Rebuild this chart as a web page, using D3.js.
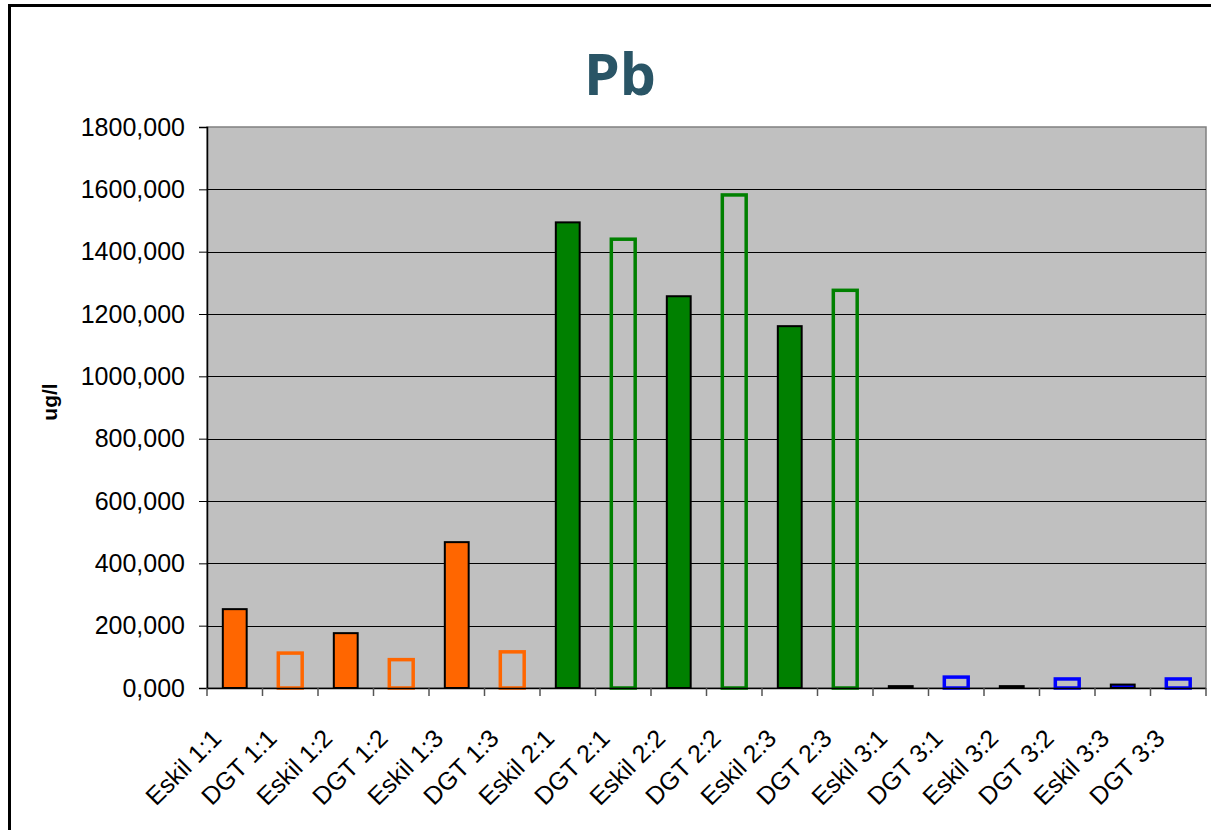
<!DOCTYPE html>
<html>
<head>
<meta charset="utf-8">
<script src="https://cdn.jsdelivr.net/npm/d3@7"></script>
<style>
  html, body { margin: 0; padding: 0; background: #fff; }
  svg { display: block; }
</style>
</head>
<body>
<svg id="chart" width="1211" height="830"></svg>
<script>
// Pb concentrations (ug/l) per sample
const categories = [
  "Eskil 1:1", "DGT 1:1", "Eskil 1:2", "DGT 1:2", "Eskil 1:3", "DGT 1:3",
  "Eskil 2:1", "DGT 2:1", "Eskil 2:2", "DGT 2:2", "Eskil 2:3", "DGT 2:3",
  "Eskil 3:1", "DGT 3:1", "Eskil 3:2", "DGT 3:2", "Eskil 3:3", "DGT 3:3"
];
const values = [
  253, 112, 176, 91, 468, 116,
  1494, 1440, 1257, 1582, 1161, 1276,
  6, 35, 6, 29, 11, 29
];
// site group of each sample (1, 2, 3)
const groups = [1,1,1,1,1,1, 2,2,2,2,2,2, 3,3,3,3,3,3];
const groupColors = { 1: "#FF6600", 2: "#008000", 3: "#0000FF" };
const yTicks = [0, 200, 400, 600, 800, 1000, 1200, 1400, 1600, 1800];

const FONT = "'Liberation Sans', Arial, sans-serif";
const svg = d3.select("#chart");

// outer chart frame
svg.append("rect")
  .attr("x", 9.5).attr("y", 5.5)
  .attr("width", 1230).attr("height", 860)
  .attr("fill", "#fff").attr("stroke", "#000").attr("stroke-width", 3);

const plot = { left: 207, right: 1206, top: 127, bottom: 688 };

const x = d3.scaleBand()
  .domain(categories)
  .range([plot.left, plot.right])
  .paddingInner(0).paddingOuter(0);

const y = d3.scaleLinear()
  .domain([0, 1800])
  .range([plot.bottom, plot.top]);

// plot background
svg.append("rect")
  .attr("x", plot.left).attr("y", plot.top)
  .attr("width", plot.right - plot.left).attr("height", plot.bottom - plot.top)
  .attr("fill", "#C0C0C0").attr("stroke", "#808080").attr("stroke-width", 1.5);

// horizontal gridlines
svg.append("g")
  .selectAll("line")
  .data(yTicks.filter(d => d > 0 && d < 1800))
  .join("line")
  .attr("x1", plot.left).attr("x2", plot.right)
  .attr("y1", d => Math.round(y(d)) + 0.5).attr("y2", d => Math.round(y(d)) + 0.5)
  .attr("stroke", "#000").attr("stroke-width", 1);

// bars: Eskil samples filled, DGT samples drawn as outlines
const barW = x.bandwidth() * 0.43;
const fmt = v => d3.format(".3f")(v).replace(".", ",");

svg.append("g")
  .selectAll("rect")
  .data(categories.map((c, i) => ({ c, v: values[i], g: groups[i], filled: c.startsWith("Eskil") })))
  .join("rect")
  .attr("x", d => x(d.c) + (x.bandwidth() - barW) / 2)
  .attr("width", barW)
  .attr("y", d => y(d.v))
  .attr("height", d => y(0) - y(d.v))
  .attr("fill", d => d.filled ? groupColors[d.g] : "none")
  .attr("stroke", d => d.filled ? "#000" : groupColors[d.g])
  .attr("stroke-width", d => d.filled ? 2 : 3.5);

// y axis
const yAxis = d3.axisLeft(y)
  .tickValues(yTicks)
  .tickFormat(fmt)
  .tickSize(8)
  .tickPadding(14);

const yg = svg.append("g")
  .attr("transform", `translate(${plot.left},0)`)
  .call(yAxis);
yg.select(".domain").attr("stroke", "#000").attr("stroke-width", 1.5);
yg.selectAll(".tick line").attr("stroke", "#000");
yg.selectAll("text")
  .attr("font-family", FONT)
  .attr("font-size", 25)
  .attr("fill", "#000");

// x axis: ticks at category boundaries
const xg = svg.append("g");
xg.append("line")
  .attr("x1", plot.left).attr("x2", plot.right)
  .attr("y1", plot.bottom + 0.5).attr("y2", plot.bottom + 0.5)
  .attr("stroke", "#000").attr("stroke-width", 1.5);
xg.selectAll("line.tick")
  .data(categories.map(c => x(c)).concat([plot.right]))
  .join("line")
  .attr("class", "tick")
  .attr("x1", d => d).attr("x2", d => d)
  .attr("y1", plot.bottom).attr("y2", plot.bottom + 8)
  .attr("stroke", "#555").attr("stroke-width", 1.5);

xg.selectAll("text")
  .data(categories)
  .join("text")
  .attr("transform", d => `translate(${x(d) + x.bandwidth() / 2 - 12},${plot.bottom + 52}) rotate(-45)`)
  .attr("text-anchor", "end")
  .attr("font-family", FONT)
  .attr("font-size", 25)
  .attr("fill", "#000")
  .text(d => d);

// y axis title
svg.append("text")
  .attr("transform", "translate(57,402) rotate(-90)")
  .attr("text-anchor", "middle")
  .attr("font-family", FONT)
  .attr("font-weight", "bold")
  .attr("font-size", 21)
  .attr("fill", "#000")
  .text("ug/l");

// chart title
svg.append("text")
  .attr("x", 620).attr("y", 95)
  .attr("text-anchor", "middle")
  .attr("font-family", "'Open Sans', sans-serif")
  .attr("font-weight", "bold")
  .attr("font-size", 57)
  .attr("fill", "#2A5566")
  .text("Pb");
</script>
</body>
</html>
